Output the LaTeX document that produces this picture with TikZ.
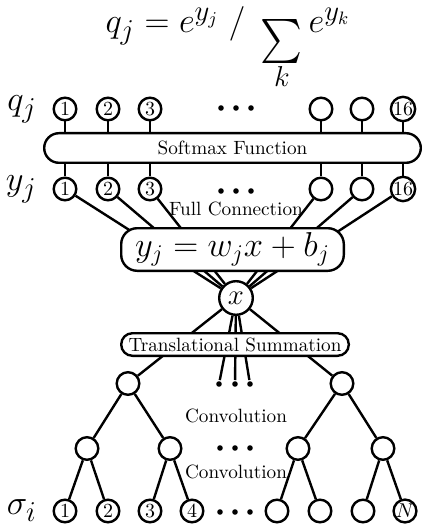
\documentclass[tikz,border=0pt]{standalone}
\usepackage{amsmath}
\usepackage{graphicx}
\usepackage{tikz}
\usetikzlibrary{positioning}
\pgfdeclarelayer{background1}
\pgfsetlayers{background1,main}

\newcommand{\sumsign}{\mathop{\raisebox{-10pt}[2pt][14pt]{\resizebox*{21pt}{22pt}{$\sum$}}}}

\begin{document}
\begin{tikzpicture}[x=0.5pt,y=-0.5pt,line width=1.2pt,
	unit/.style={circle,draw,fill=white,minimum size=11.3pt,inner sep=0pt,font=\fontsize{10}{11}\selectfont},
	blob/.style={circle,fill,minimum size=2.8pt,inner sep=0pt},
	link/.style={line width=1.2pt},
	layerbox/.style={draw,fill=white,inner sep=0pt,font=\fontsize{9.6}{11}\selectfont},
	lab/.style={font=\fontsize{19}{22}\selectfont},
	note/.style={font=\fontsize{9.6}{11}\selectfont}]

	\useasboundingbox (0,0) rectangle (423,529);

	\node(softmaxeq) [anchor=base,inner sep=0pt,font=\fontsize{19}{22}\selectfont] at (228,33) {$q_j = e^{y_j}\;/\;\sumsign\limits_k e^{y_k}$};

	% output row
	\node(q1) [unit] at (65,109) {1};
	\node(q2) [unit] at (108,109) {2};
	\node(q3) [unit] at (150,109) {3};
	\node(q4) [unit] at (321,109) {};
	\node(q5) [unit] at (362,109) {};
	\node(q16) [unit] at (403,109) {16};
	\node(qd1) [blob] at (221,108) {};
	\node(qd2) [blob] at (236,108) {};
	\node(qd3) [blob] at (251,108) {};
	\node(qlab) [lab,left=4pt of q1] {$q_j$};

	\node(softmax) [layerbox,minimum width=188.3pt,minimum height=14.8pt,rounded corners=7.4pt] at (232.5,148) {Softmax Function};

	% linear row
	\node(y1) [unit] at (65,189) {1};
	\node(y2) [unit] at (108,189) {2};
	\node(y3) [unit] at (150,189) {3};
	\node(y4) [unit] at (321,189) {};
	\node(y5) [unit] at (362,189) {};
	\node(y16) [unit] at (403,189) {16};
	\node(yd1) [blob] at (221,191) {};
	\node(yd2) [blob] at (236,191) {};
	\node(yd3) [blob] at (251,191) {};
	\node(ylab) [lab,left=4pt of y1] {$y_j$};

	\node(full) [note] at (236,209) {Full Connection};
	\node(linear) [layerbox,minimum width=111.3pt,minimum height=21.3pt,rounded corners=8pt,font=\fontsize{18}{20}\selectfont] at (232.5,249.5) {$y_j = w_jx + b_j$};

	\node(x) [unit,minimum size=16.8pt,font=\fontsize{15.5}{17}\selectfont] at (236,298) {$x$};

	\node(trans) [layerbox,minimum width=113.8pt,minimum height=11.3pt,rounded corners=5.6pt] at (235,344.5) {Translational Summation};
	\node(e1) [blob] at (219,384) {};
	\node(e2) [blob] at (235,384) {};
	\node(e3) [blob] at (250,384) {};

	% convolution tree
	\node(tl) [unit] at (128,383.5) {};
	\node(tr) [unit] at (342,383.5) {};
	\node(conva) [note] at (236,416) {Convolution};
	\node(ma) [unit] at (87,448.5) {};
	\node(mb) [unit] at (170,448.5) {};
	\node(mc) [unit] at (298,448.5) {};
	\node(md) [unit] at (383,448.5) {};
	\node(md1) [blob] at (220,448) {};
	\node(md2) [blob] at (235,448) {};
	\node(md3) [blob] at (250,448) {};
	\node(convb) [note] at (236,472) {Convolution};

	\node(s1) [unit] at (65,511) {1};
	\node(s2) [unit] at (108,511) {2};
	\node(s3) [unit] at (150,511) {3};
	\node(s4) [unit] at (192,511) {4};
	\node(s5) [unit] at (277,511) {};
	\node(s6) [unit] at (320,511) {};
	\node(s7) [unit] at (363,511) {};
	\node(sN) [unit] at (405,511) {$N$};
	\node(sd1) [blob] at (220,512) {};
	\node(sd2) [blob] at (235,512) {};
	\node(sd3) [blob] at (250,512) {};
	\node(slab) [lab,left=4pt of s1] {$\sigma_i$};

	\begin{pgfonlayer}{background1}
		\draw[link] (q1) -- (y1);
		\draw[link] (q2) -- (y2);
		\draw[link] (q3) -- (y3);
		\draw[link] (q4) -- (y4);
		\draw[link] (q5) -- (y5);
		\draw[link] (q16) -- (y16);
		\draw[link] (y1) -- (x);
		\draw[link] (y2) -- (x);
		\draw[link] (y3) -- (x);
		\draw[link] (y4) -- (x);
		\draw[link] (y5) -- (x);
		\draw[link] (y16) -- (x);
		\draw[link] (x) -- (tl);
		\draw[link] (x) -- (tr);
		\draw[link] (x) -- (e1);
		\draw[link] (x) -- (e2);
		\draw[link] (x) -- (e3);
		\draw[link] (tl) -- (ma);
		\draw[link] (tl) -- (mb);
		\draw[link] (tr) -- (mc);
		\draw[link] (tr) -- (md);
		\draw[link] (ma) -- (s1);
		\draw[link] (ma) -- (s2);
		\draw[link] (mb) -- (s3);
		\draw[link] (mb) -- (s4);
		\draw[link] (mc) -- (s5);
		\draw[link] (mc) -- (s6);
		\draw[link] (md) -- (s7);
		\draw[link] (md) -- (sN);
	\end{pgfonlayer}

\end{tikzpicture}
\end{document}
